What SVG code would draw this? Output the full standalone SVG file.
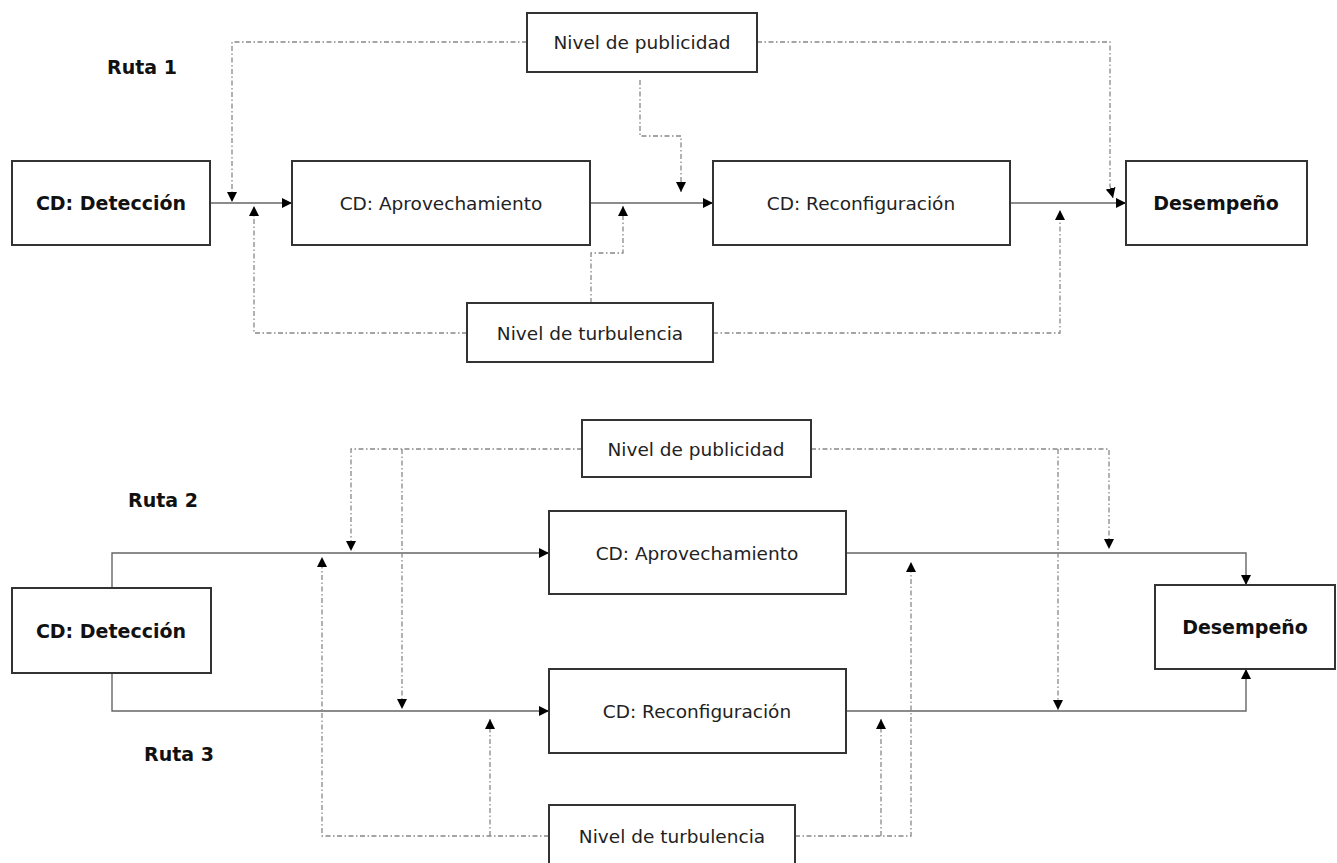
<svg xmlns="http://www.w3.org/2000/svg" width="1337" height="863" viewBox="0 0 1337 863">
<style>
.box{fill:#fff;stroke:#333;stroke-width:2}
.t{font-family:"DejaVu Sans",Verdana,sans-serif;font-size:18.5px;fill:#222;text-anchor:middle}
.b{font-family:"DejaVu Sans",Verdana,sans-serif;font-size:19px;font-weight:bold;fill:#111;text-anchor:middle}
.lbl{font-family:"DejaVu Sans",Verdana,sans-serif;font-size:19px;font-weight:bold;fill:#111}
.s{fill:none;stroke:#666;stroke-width:1.4}
.d{fill:none;stroke:#888;stroke-width:1.3;stroke-dasharray:5 2.5 1.5 2.5}
</style>
<defs>
<marker id="ah" viewBox="0 0 10 10" refX="10" refY="5" markerWidth="10" markerHeight="10" markerUnits="userSpaceOnUse" orient="auto">
<path d="M0,0 L10,5 L0,10 z" fill="#000"/>
</marker>
</defs>
<rect width="1337" height="863" fill="#fff"/>
<g id="connectors">
<!-- top solid -->
<path class="s" d="M210,203 H292" marker-end="url(#ah)"/>
<path class="s" d="M590,203 H713" marker-end="url(#ah)"/>
<path class="s" d="M1010,203 H1126" marker-end="url(#ah)"/>
<!-- top publicidad -->
<path class="d" d="M527,42 H232 V202" marker-end="url(#ah)"/>
<path class="d" d="M757,42 H1110 V186 L1113,198" marker-end="url(#ah)"/>
<path class="d" d="M640,80 V136 H681 V192" marker-end="url(#ah)"/>
<!-- top turbulencia -->
<path class="d" d="M467,333 H254 V206" marker-end="url(#ah)"/>
<path class="d" d="M591,303 V253 H623 V206" marker-end="url(#ah)"/>
<path class="d" d="M713,333 H1060 V210" marker-end="url(#ah)"/>
<!-- bottom solid -->
<path class="s" d="M112,588 V553 H549" marker-end="url(#ah)"/>
<path class="s" d="M112,673 V711 H549" marker-end="url(#ah)"/>
<path class="s" d="M846,553 H1246 V585" marker-end="url(#ah)"/>
<path class="s" d="M846,711 H1246 V669" marker-end="url(#ah)"/>
<!-- bottom publicidad -->
<path class="d" d="M582,449 H351 V551" marker-end="url(#ah)"/>
<path class="d" d="M402,449 V709" marker-end="url(#ah)"/>
<path class="d" d="M811,449 H1109 V549" marker-end="url(#ah)"/>
<path class="d" d="M1058,449 V710" marker-end="url(#ah)"/>
<!-- bottom turbulencia -->
<path class="d" d="M549,836 H322 V557" marker-end="url(#ah)"/>
<path class="d" d="M490,836 V719" marker-end="url(#ah)"/>
<path class="d" d="M795,836 H911 V562" marker-end="url(#ah)"/>
<path class="d" d="M881,836 V719" marker-end="url(#ah)"/>
</g>
<g id="labels">
<text class="lbl" x="107" y="74">Ruta 1</text>
<text class="lbl" x="128" y="507">Ruta 2</text>
<text class="lbl" x="144" y="761">Ruta 3</text>
</g>
<g id="n1-deteccion"><rect class="box" x="12" y="161" width="198" height="84"/><text class="b" x="111" y="210">CD: Detección</text></g>
<g id="n1-aprovechamiento"><rect class="box" x="292" y="161" width="298" height="84"/><text class="t" x="441" y="210">CD: Aprovechamiento</text></g>
<g id="n1-reconfiguracion"><rect class="box" x="713" y="161" width="297" height="84"/><text class="t" x="861" y="210">CD: Reconfiguración</text></g>
<g id="n1-desempeno"><rect class="box" x="1126" y="161" width="181" height="84"/><text class="b" x="1216" y="210">Desempeño</text></g>
<g id="n1-publicidad"><rect class="box" x="527" y="13" width="230" height="59"/><text class="t" x="642" y="49">Nivel de publicidad</text></g>
<g id="n1-turbulencia"><rect class="box" x="467" y="303" width="246" height="59"/><text class="t" x="590" y="340">Nivel de turbulencia</text></g>
<g id="n2-deteccion"><rect class="box" x="12" y="588" width="199" height="85"/><text class="b" x="111" y="638">CD: Detección</text></g>
<g id="n2-publicidad"><rect class="box" x="582" y="420" width="229" height="57"/><text class="t" x="696" y="456">Nivel de publicidad</text></g>
<g id="n2-aprovechamiento"><rect class="box" x="549" y="511" width="297" height="83"/><text class="t" x="697" y="560">CD: Aprovechamiento</text></g>
<g id="n2-reconfiguracion"><rect class="box" x="549" y="669" width="297" height="84"/><text class="t" x="697" y="718">CD: Reconfiguración</text></g>
<g id="n2-turbulencia"><rect class="box" x="549" y="805" width="246" height="70"/><text class="t" x="672" y="843">Nivel de turbulencia</text></g>
<g id="n2-desempeno"><rect class="box" x="1155" y="585" width="180" height="84"/><text class="b" x="1245" y="634">Desempeño</text></g>
</svg>
